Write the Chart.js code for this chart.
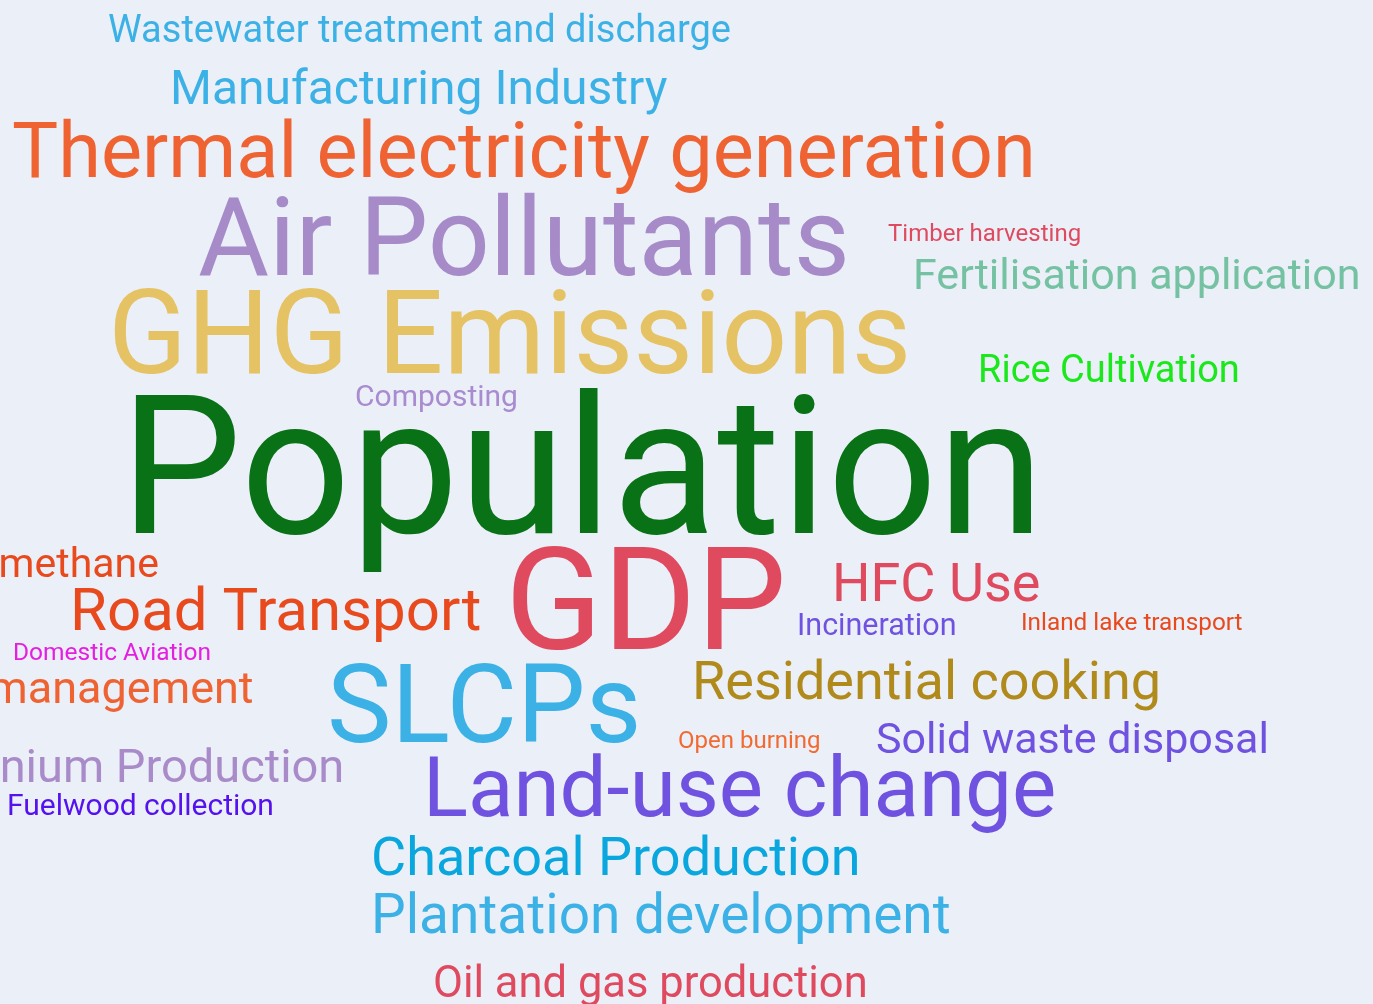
<!DOCTYPE html>
<html>
<head>
<meta charset="utf-8">
<script src="https://cdn.jsdelivr.net/npm/chart.js@4.4.1/dist/chart.umd.min.js"></script>
<style>
  html, body { margin: 0; padding: 0; background: #ebeff8; }
  #wrap { width: 1373px; height: 1004px; }
</style>
</head>
<body>
<div id="wrap"><canvas id="cloud" width="1373" height="1004"></canvas></div>
<script>
// words of the cloud and their weights (drawn as font size)
const words = [
  'Wastewater treatment and discharge', 'Manufacturing Industry', 'Thermal electricity generation',
  'Air Pollutants', 'GHG Emissions', 'Composting', 'Population', 'Enteric methane', 'Road Transport',
  'Domestic Aviation', 'Manure management', 'Aluminium Production', 'Fuelwood collection', 'GDP',
  'SLCPs', 'HFC Use', 'Incineration', 'Inland lake transport', 'Residential cooking', 'Open burning',
  'Solid waste disposal', 'Land-use change', 'Charcoal Production', 'Plantation development',
  'Oil and gas production', 'Timber harvesting', 'Fertilisation application', 'Rice Cultivation'
];
const weights = [38, 48, 77.5, 109, 116, 30, 193, 41, 60, 24.5, 45, 47, 30, 143, 108.5, 54, 30.5, 24.3, 54, 24, 43, 83.5, 54, 55, 43.5, 24, 43, 38];

// layout of the cloud (x = left of word, y = baseline)
const xs = [108, 170, 12, 198, 108, 355, 120, -138, 70, 13, -175, -121, 7, 505, 327, 832, 797, 1021, 692, 678, 876, 423, 371, 371, 433, 888, 913, 978];
const ys = [42, 104, 177, 275, 373, 406, 533, 577, 630, 660, 703, 782, 815, 649, 742, 601, 635, 630, 699, 748, 753, 816, 875, 933, 997, 241, 289, 382];

const colors = [
  '#3cb1e6', '#3cb1e6', '#ee6331', '#a78bc9', '#e5c263', '#a98bd0', '#097116', '#e8491d', '#e8491d',
  '#e41fe0', '#ee6331', '#a98bc9', '#5512ee', '#df4a5f', '#3cb1e6', '#df4a5f', '#7052e0', '#e8491d',
  '#b08a1a', '#f26a30', '#7052e0', '#7052e0', '#0aa7de', '#3cb1e6', '#df4a5f', '#df4a5f', '#74c2a2', '#1ae81a'
];

const wordLabels = {
  id: 'wordLabels',
  afterDatasetsDraw(chart) {
    const { ctx, scales } = chart;
    ctx.save();
    ctx.textAlign = 'left';
    ctx.textBaseline = 'alphabetic';
    words.forEach((w, i) => {
      ctx.font = `400 ${weights[i]}px Roboto`;
      ctx.fillStyle = colors[i];
      ctx.fillText(w, scales.x.getPixelForValue(xs[i]), scales.y.getPixelForValue(ys[i]));
    });
    ctx.restore();
  }
};

new Chart(document.getElementById('cloud'), {
  type: 'scatter',
  data: {
    datasets: [{
      data: words.map((w, i) => ({ x: xs[i], y: ys[i] })),
      pointRadius: 0,
    }],
  },
  options: {
    responsive: false,
    animation: false,
    layout: { padding: 0 },
    plugins: {
      legend: { display: false },
      tooltip: { enabled: false },
    },
    scales: {
      x: { display: false, min: 0, max: 1373 },
      y: { display: false, min: 0, max: 1004, reverse: true },
    },
  },
  plugins: [wordLabels],
});
</script>
</body>
</html>
